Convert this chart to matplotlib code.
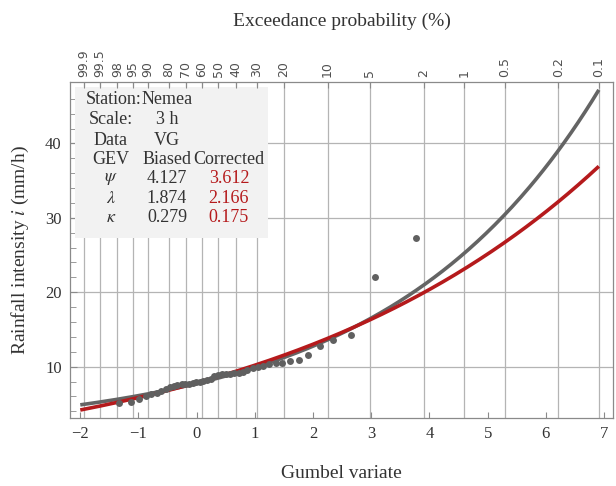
import numpy as np
import matplotlib
matplotlib.use("Agg")
import matplotlib.pyplot as plt
from matplotlib.patches import Rectangle

plt.rcParams['font.family'] = ['Liberation Serif', 'DejaVu Serif']
plt.rcParams['mathtext.fontset'] = 'stix'

# ── DATA ────────────────────────────────────────────────────────────
# empirical points: Gumbel reduced variate vs rainfall intensity (mm/h)
gumbel_x = [-1.33, -1.13, -0.99, -0.87, -0.78, -0.69, -0.61, -0.53, -0.46, -0.39,
            -0.33, -0.26, -0.20, -0.14, -0.07, -0.01, 0.05, 0.11, 0.17, 0.24,
            0.30, 0.37, 0.43, 0.50, 0.57, 0.64, 0.72, 0.79, 0.87, 0.96,
            1.05, 1.14, 1.25, 1.36, 1.47, 1.61, 1.75, 1.92, 2.12, 2.35,
            2.65, 3.07, 3.77]
intensity = [5.1, 5.2, 5.6, 6.1, 6.3, 6.5, 6.7, 7.0, 7.2, 7.4,
             7.5, 7.6, 7.65, 7.7, 7.8, 7.9, 8.0, 8.05, 8.15, 8.3,
             8.7, 8.85, 8.95, 9.0, 9.05, 9.1, 9.2, 9.3, 9.55, 9.75,
             9.95, 10.15, 10.35, 10.5, 10.55, 10.8, 10.85, 11.5, 12.8, 13.6,
             14.2, 22.0, 27.3]

# GEV parameters shown in the table
param_names = [r'$\psi$', r'$\lambda$', r'$\kappa$']
biased = [4.127, 1.874, 0.279]
corrected = [3.612, 2.166, 0.175]

# top axis: exceedance probability (%)
exceed_pct = [99.9, 99.5, 98, 95, 90, 80, 70, 60, 50, 40, 30, 20, 10, 5, 2, 1, 0.5, 0.2, 0.1]
exceed_lbl = ['99.9', '99.5', '98', '95', '90', '80', '70', '60', '50', '40', '30',
              '20', '10', '5', '2', '1', '0.5', '0.2', '0.1']


def gev_quantile(y, psi, lam, kap):
    return lam * (psi + (np.exp(kap * y) - 1) / kap)


def pct_to_gumbel(p):
    return -np.log(-np.log(1 - np.asarray(p) / 100.0))


# ── FIGURE ──────────────────────────────────────────────────────────
fig = plt.figure(figsize=(6.16, 4.86), dpi=100)
ax = fig.add_axes([0.1136, 0.140, 0.882, 0.692])

grid_c = '#b4b4b4'
frame_c = '#8a8a8a'
text_c = '#333333'

xmin, xmax = -2.177, 7.158
ax.set_xlim(xmin, xmax)
ax.set_ylim(3.1, 48.3)

xg = pct_to_gumbel(exceed_pct)
for xv in xg:
    ax.axvline(xv, color=grid_c, lw=0.9, zorder=0)
for yv in [10, 20, 30, 40]:
    ax.axhline(yv, color=grid_c, lw=0.9, zorder=0)

yy = np.linspace(-2.0, 6.91, 300)
ax.plot(yy, gev_quantile(yy, *biased), color='#646464', lw=2.6, zorder=2,
        solid_capstyle='butt')
ax.plot(yy, gev_quantile(yy, *corrected), color='#b51a1c', lw=2.6, zorder=3,
        solid_capstyle='butt')
ax.plot(gumbel_x, intensity, 'o', color='#606060', ms=5, mec='none', zorder=4)

for s in ax.spines.values():
    s.set_color(frame_c)
    s.set_linewidth(0.9)

ax.set_xticks(range(-2, 8))
ax.set_xticklabels([f'\u2212{abs(v)}' if v < 0 else str(v) for v in range(-2, 8)])
ax.set_yticks([10, 20, 30, 40])
ax.set_yticks(np.arange(4, 48, 2), minor=True)
ax.tick_params(axis='both', which='major', direction='in', length=5, color=frame_c,
               labelsize=12, labelcolor=text_c, pad=6)
ax.tick_params(axis='y', which='minor', direction='in', length=4, color=frame_c)
ax.tick_params(axis='x', which='major', length=4)

ax.set_xlabel('Gumbel variate', fontsize=14, color=text_c, labelpad=16)
ax.set_ylabel(r'Rainfall intensity $i$ (mm/h)', fontsize=14, color=text_c, labelpad=10)

# top axis
ax2 = ax.twiny()
ax2.set_xlim(xmin, xmax)
ax2.set_xticks(xg)
ax2.set_xticklabels(exceed_lbl, rotation=90, fontsize=9, family='DejaVu Sans',
                    color='#505050')
ax2.tick_params(axis='x', direction='in', length=4, color=frame_c, pad=3)
for s in ax2.spines.values():
    s.set_visible(False)
ax2.set_xlabel('Exceedance probability (%)', fontsize=14, color=text_c, labelpad=17)

# parameter table
def px_x(x):
    return (x - 70) / 543.3


def px_y(y):
    return 1 - (y - 81.7) / 336.3


ax.add_patch(Rectangle((px_x(75), px_y(238)), px_x(268) - px_x(75), px_y(87) - px_y(238),
                       transform=ax.transAxes, facecolor='#f2f2f2', edgecolor='none',
                       zorder=5))

col1, col2, col3 = px_x(111), px_x(167), px_x(229)
rows = [px_y(100), px_y(120), px_y(140.5), px_y(160), px_y(179), px_y(198.5), px_y(218)]
tkw = dict(transform=ax.transAxes, ha='center', va='center', fontsize=13,
           color=text_c, zorder=6)
ax.text(col1 + 0.005, rows[0], 'Station:', **tkw)
ax.text(col2, rows[0], 'Nemea', **tkw)
ax.text(col1, rows[1], 'Scale:', **tkw)
ax.text(col2, rows[1], '3 h', **tkw)
ax.text(col1, rows[2], 'Data', **tkw)
ax.text(col2, rows[2], 'VG', **tkw)
ax.text(col1, rows[3], 'GEV', **tkw)
ax.text(col2, rows[3], 'Biased', **tkw)
ax.text(col3, rows[3], 'Corrected', **tkw)
for k in range(3):
    ax.text(col1, rows[4 + k], param_names[k], **tkw)
    ax.text(col2, rows[4 + k], f'{biased[k]:.3f}', **tkw)
    ax.text(col3, rows[4 + k], f'{corrected[k]:.3f}',
            **{**tkw, 'color': '#b51a1c'})

fig.savefig('out.png', dpi=100)
